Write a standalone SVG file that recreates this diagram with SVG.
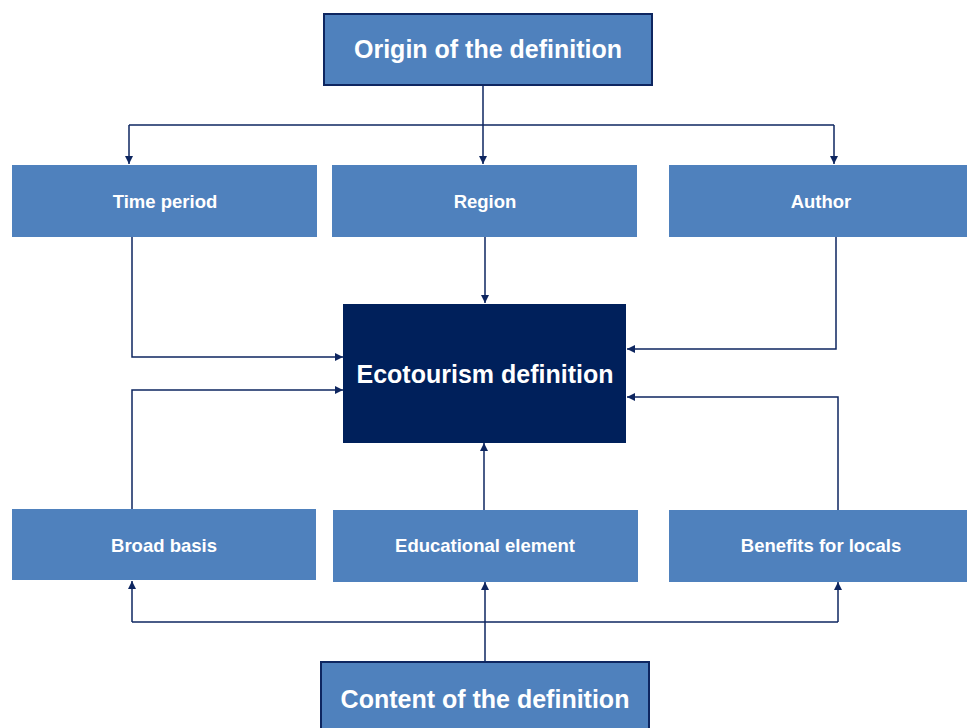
<svg xmlns="http://www.w3.org/2000/svg" width="967" height="728" viewBox="0 0 967 728">
  <defs>
    <marker id="arrow" viewBox="0 0 10 10" refX="10" refY="5" markerWidth="8" markerHeight="8" markerUnits="userSpaceOnUse" orient="auto">
      <path d="M0,0 L10,5 L0,10 z" fill="#0E2660"/>
    </marker>
    <style>
      .box { fill: #4F81BD; }
      .title { fill: #4F81BD; stroke: #0E2660; stroke-width: 2; }
      .core { fill: #00205B; }
      .lbl { fill: #FFFFFF; font-family: "Liberation Sans", Arial, sans-serif; font-weight: bold; font-size: 18.5px; text-anchor: middle; }
      .big { fill: #FFFFFF; font-family: "Liberation Sans", Arial, sans-serif; font-weight: bold; font-size: 25px; text-anchor: middle; }
      .wire { fill: none; stroke: #0E2660; stroke-width: 1.5; }
      .wire-a { fill: none; stroke: #0E2660; stroke-width: 1.5; marker-end: url(#arrow); }
    </style>
  </defs>

  <rect width="967" height="728" fill="#FFFFFF"/>

  <!-- connectors -->
  <g id="connectors">
    <!-- origin fan-out -->
    <path class="wire" d="M483,86 V125"/>
    <path class="wire" d="M129,125 H834"/>
    <path class="wire-a" d="M129,125 V164"/>
    <path class="wire-a" d="M483,125 V164"/>
    <path class="wire-a" d="M834,125 V164"/>
    <!-- origin attributes into core -->
    <path class="wire-a" d="M132,237 V357 H343"/>
    <path class="wire-a" d="M485,237 V303"/>
    <path class="wire-a" d="M836,237 V349 H627"/>
    <!-- content attributes into core -->
    <path class="wire-a" d="M132,509 V390 H343"/>
    <path class="wire-a" d="M484,510 V443"/>
    <path class="wire-a" d="M838,510 V397 H627"/>
    <!-- content fan-out -->
    <path class="wire" d="M485,661 V622"/>
    <path class="wire" d="M132,622 H838"/>
    <path class="wire-a" d="M132,622 V581"/>
    <path class="wire-a" d="M485,622 V582"/>
    <path class="wire-a" d="M838,622 V582"/>
  </g>

  <g id="origin">
    <rect class="title" x="324" y="14" width="328" height="71"/>
    <text class="big" x="488" y="58">Origin of the definition</text>
  </g>

  <g id="time-period">
    <rect class="box" x="12" y="165" width="305" height="72"/>
    <text class="lbl" x="165" y="208">Time period</text>
  </g>
  <g id="region">
    <rect class="box" x="332" y="165" width="305" height="72"/>
    <text class="lbl" x="485" y="208">Region</text>
  </g>
  <g id="author">
    <rect class="box" x="669" y="165" width="298" height="72"/>
    <text class="lbl" x="821" y="208">Author</text>
  </g>

  <g id="ecotourism">
    <rect class="core" x="343" y="304" width="283" height="139"/>
    <text class="big" x="485" y="383">Ecotourism definition</text>
  </g>

  <g id="broad-basis">
    <rect class="box" x="12" y="509" width="304" height="71"/>
    <text class="lbl" x="164" y="552">Broad basis</text>
  </g>
  <g id="educational">
    <rect class="box" x="333" y="510" width="305" height="72"/>
    <text class="lbl" x="485" y="552">Educational element</text>
  </g>
  <g id="benefits">
    <rect class="box" x="669" y="510" width="298" height="72"/>
    <text class="lbl" x="821" y="552">Benefits for locals</text>
  </g>

  <g id="content">
    <rect class="title" x="321" y="662" width="328" height="80"/>
    <text class="big" x="485" y="708">Content of the definition</text>
  </g>
</svg>
